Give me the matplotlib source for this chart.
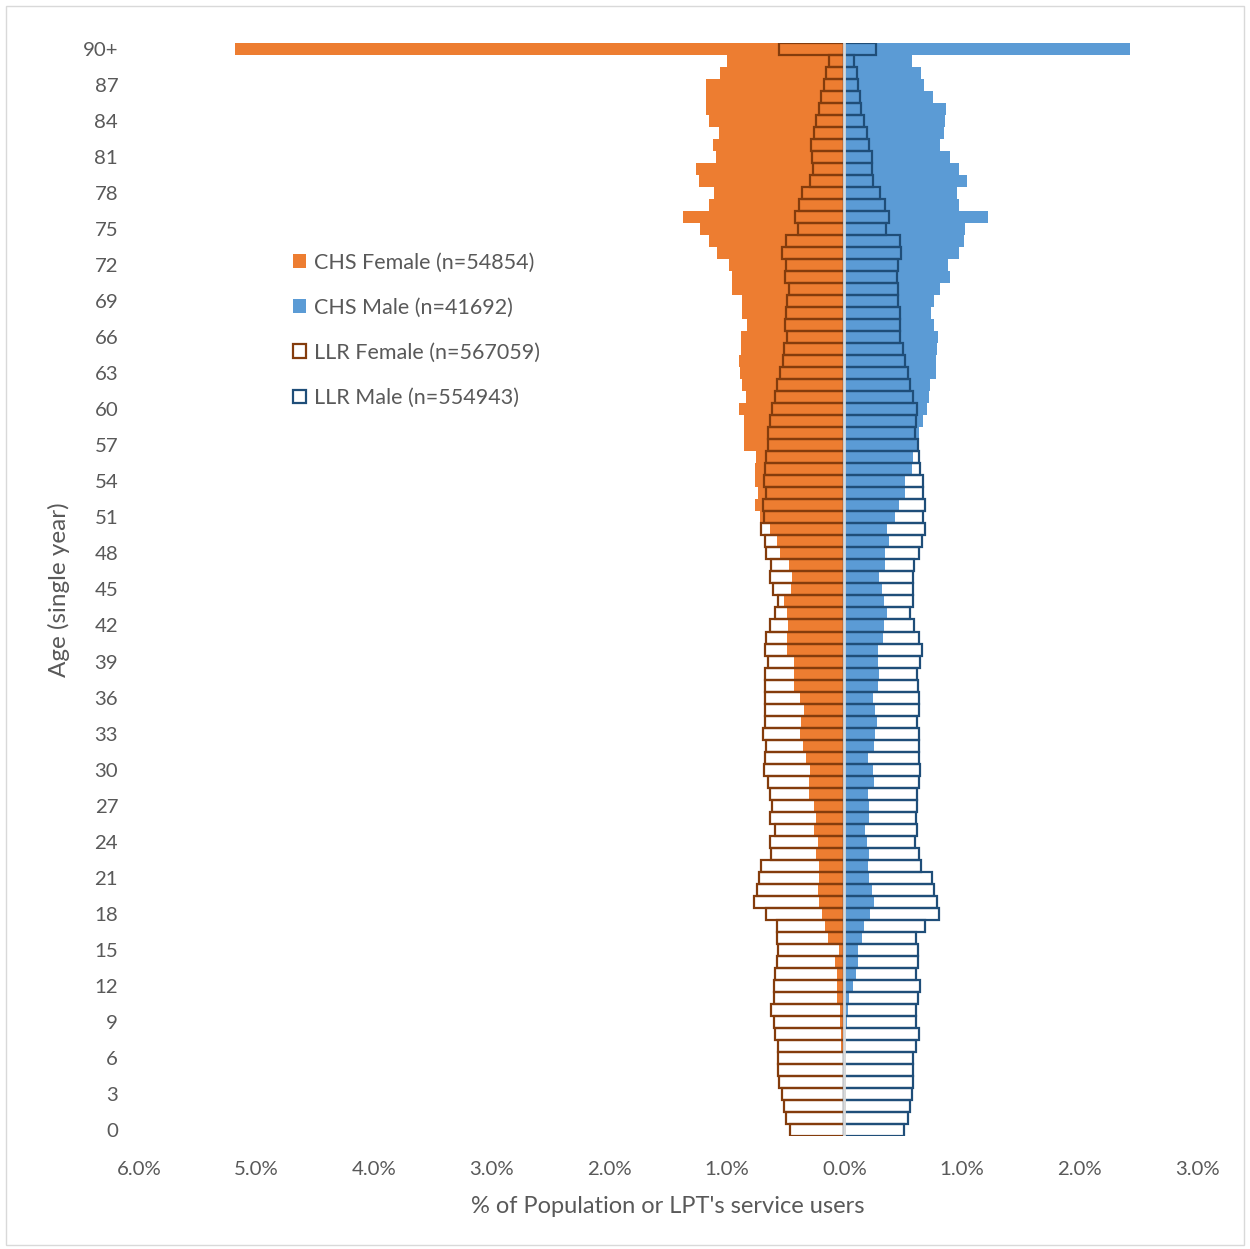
import numpy as np
import matplotlib
matplotlib.use("Agg")
import matplotlib.pyplot as plt
from matplotlib.patches import Rectangle

plt.rcParams['font.family'] = ['Lato', 'DejaVu Sans']

# % of population by single year of age, 0 .. 90+
ages = list(range(91))
age_labels = [str(a) if a < 90 else "90+" for a in ages]

chs_female = [0, 0, 0, 0, 0.014, 0, 0.005, 0.025, 0.025, 0.04,
              0.04, 0.06, 0.06, 0.06, 0.082, 0.048, 0.139, 0.167, 0.19, 0.212,
              0.224, 0.212, 0.212, 0.238, 0.224, 0.255, 0.238, 0.255, 0.297, 0.297,
              0.289, 0.323, 0.354, 0.374, 0.365, 0.34, 0.374, 0.431, 0.431, 0.431,
              0.487, 0.487, 0.476, 0.487, 0.51, 0.453, 0.445, 0.473, 0.544, 0.572,
              0.629, 0.714, 0.756, 0.736, 0.756, 0.756, 0.748, 0.855, 0.855, 0.855,
              0.90, 0.833, 0.87, 0.884, 0.898, 0.878, 0.878, 0.827, 0.87, 0.87,
              0.954, 0.954, 0.977, 1.08, 1.15, 1.23, 1.37, 1.15, 1.11, 1.24,
              1.26, 1.09, 1.12, 1.07, 1.15, 1.18, 1.18, 1.18, 1.06, 1.00, 5.18]

chs_male = [0, 0, 0.005, 0, 0, 0, 0.003, 0.005, 0.008, 0.02,
            0.034, 0.042, 0.071, 0.099, 0.113, 0.113, 0.147, 0.17, 0.221, 0.255,
            0.232, 0.212, 0.201, 0.212, 0.19, 0.178, 0.212, 0.212, 0.198, 0.255,
            0.241, 0.198, 0.255, 0.263, 0.275, 0.263, 0.241, 0.289, 0.297, 0.289,
            0.289, 0.331, 0.34, 0.362, 0.34, 0.317, 0.297, 0.348, 0.348, 0.382,
            0.362, 0.428, 0.462, 0.515, 0.515, 0.575, 0.586, 0.632, 0.632, 0.666,
            0.70, 0.722, 0.731, 0.779, 0.779, 0.788, 0.799, 0.767, 0.739, 0.759,
            0.813, 0.898, 0.886, 0.977, 1.014, 1.03, 1.22, 0.977, 0.957, 1.04,
            0.977, 0.90, 0.816, 0.844, 0.855, 0.864, 0.756, 0.68, 0.65, 0.575, 2.43]

llr_female = [0.464, 0.496, 0.51, 0.53, 0.552, 0.564, 0.564, 0.564, 0.586, 0.60,
              0.62, 0.595, 0.60, 0.586, 0.572, 0.564, 0.572, 0.572, 0.663, 0.765,
              0.742, 0.722, 0.708, 0.62, 0.629, 0.586, 0.629, 0.614, 0.629, 0.648,
              0.686, 0.671, 0.663, 0.691, 0.671, 0.671, 0.671, 0.671, 0.671, 0.648,
              0.671, 0.663, 0.629, 0.586, 0.563, 0.609, 0.629, 0.62, 0.663, 0.671,
              0.708, 0.686, 0.694, 0.668, 0.682, 0.671, 0.663, 0.648, 0.648, 0.635,
              0.614, 0.586, 0.572, 0.55, 0.52, 0.51, 0.487, 0.507, 0.50, 0.487,
              0.473, 0.507, 0.50, 0.53, 0.50, 0.39, 0.42, 0.388, 0.357, 0.29,
              0.27, 0.278, 0.28, 0.26, 0.238, 0.215, 0.195, 0.176, 0.153, 0.13, 0.555]

llr_male = [0.504, 0.538, 0.558, 0.575, 0.586, 0.586, 0.586, 0.609, 0.632, 0.609,
            0.609, 0.623, 0.646, 0.609, 0.623, 0.623, 0.609, 0.688, 0.807, 0.785,
            0.765, 0.745, 0.651, 0.632, 0.598, 0.614, 0.609, 0.614, 0.614, 0.632,
            0.646, 0.632, 0.632, 0.632, 0.614, 0.632, 0.632, 0.626, 0.614, 0.646,
            0.657, 0.637, 0.595, 0.558, 0.58, 0.58, 0.586, 0.595, 0.632, 0.66,
            0.683, 0.666, 0.683, 0.666, 0.666, 0.646, 0.637, 0.626, 0.603, 0.609,
            0.614, 0.586, 0.558, 0.538, 0.518, 0.495, 0.473, 0.475, 0.473, 0.46,
            0.46, 0.45, 0.46, 0.48, 0.473, 0.354, 0.376, 0.346, 0.306, 0.246,
            0.232, 0.232, 0.21, 0.195, 0.17, 0.144, 0.136, 0.116, 0.105, 0.08, 0.27]

x_ticks = [-6, -5, -4, -3, -2, -1, 0, 1, 2, 3]

grey_text = "#595959"


def plot():
    fig = plt.figure(figsize=(12.5, 12.49), dpi=100)
    ax = fig.add_axes([0.1112, 0.0905, 0.8464, 0.8751])

    ax.barh(ages, -np.array(chs_female), height=1.0, color="#ED7D31",
            label="CHS Female (n=54854)")
    ax.barh(ages, chs_male, height=1.0, color="#5B9BD5",
            label="CHS Male (n=41692)")
    ax.barh(ages, -np.array(llr_female), height=1.0, facecolor="none",
            edgecolor="#843C0C", linewidth=1.6, label="LLR Female (n=567059)")
    ax.barh(ages, llr_male, height=1.0, facecolor="none",
            edgecolor="#1F4E79", linewidth=1.6, label="LLR Male (n=554943)")
    ax.axvline(0, color="#D9D9D9", linewidth=2, zorder=5)

    ax.set_xlim(-6, 3)
    ax.set_ylim(-0.5, 90.5)
    ax.set_xticks(x_ticks)
    ax.set_xticklabels(["%.1f%%" % abs(v) for v in x_ticks])
    ax.set_yticks(ages[::3])
    ax.set_yticklabels(age_labels[::3])
    ax.tick_params(length=0, labelsize=14.7, labelcolor=grey_text)
    ax.tick_params(axis="x", pad=18)
    ax.tick_params(axis="y", pad=15)
    for s in ax.spines.values():
        s.set_visible(False)

    ax.set_xlabel("% of Population or LPT's service users", fontsize=17,
                  color=grey_text, labelpad=13)
    ax.set_ylabel("Age (single year)", fontsize=17.5, color=grey_text, labelpad=9)

    ax.legend(loc="upper left", bbox_to_anchor=(0.127, 0.826), frameon=False,
              fontsize=15.5, labelcolor=grey_text, handlelength=0.6,
              handleheight=0.6, handletextpad=0.4, labelspacing=1.17)

    fig.add_artist(Rectangle((0.005, 0.003), 0.99, 0.992, transform=fig.transFigure,
                             fill=False, edgecolor="#D9D9D9", linewidth=1))
    fig.savefig("out.png", dpi=100)


if __name__ == "__main__":
    plot()
